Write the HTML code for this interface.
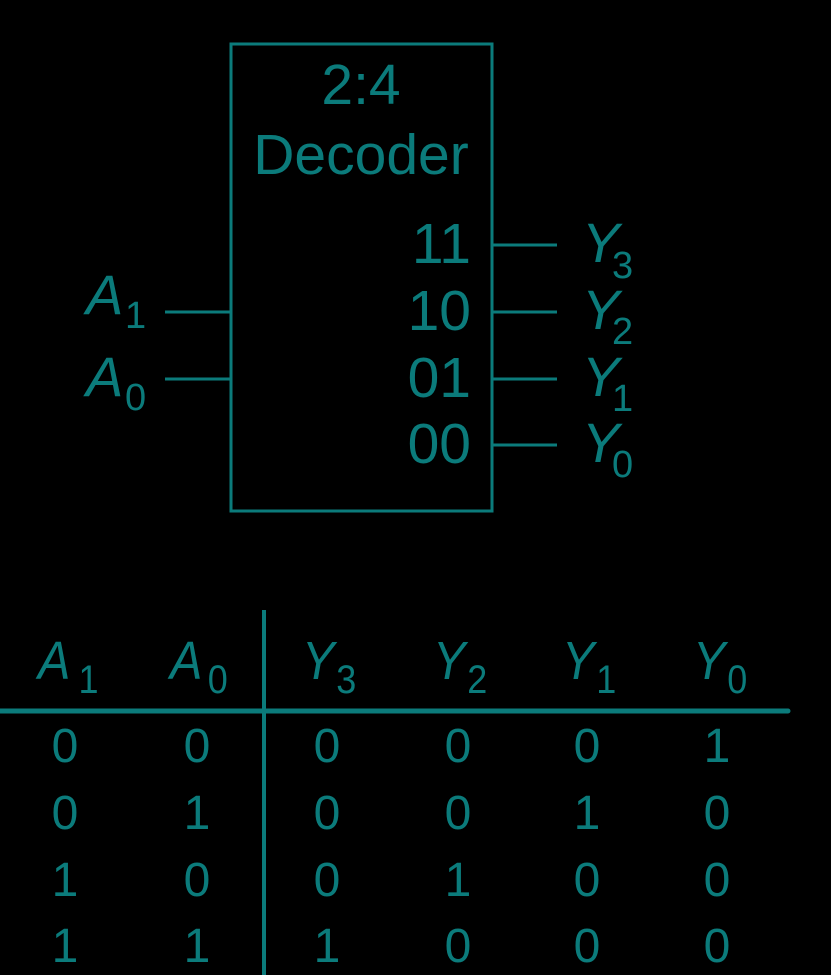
<!DOCTYPE html>
<html><head><meta charset="utf-8"><style>
html,body{margin:0;padding:0;background:#000;}
svg{display:block;}
text{font-family:"Liberation Sans",sans-serif;fill:#0b7b7b;}
.i{font-style:italic;}
</style></head><body>
<svg width="831" height="975" viewBox="0 0 831 975">
<g stroke="#0b7b7b" stroke-width="3" fill="none">
<rect x="231" y="44" width="261" height="467"/>
<line x1="165" y1="312" x2="231" y2="312"/>
<line x1="165" y1="379" x2="231" y2="379"/>
<line x1="492" y1="245" x2="557" y2="245"/>
<line x1="492" y1="312" x2="557" y2="312"/>
<line x1="492" y1="379" x2="557" y2="379"/>
<line x1="492" y1="445" x2="557" y2="445"/>
</g>
<line x1="0" y1="711" x2="788" y2="711" stroke="#0b7b7b" stroke-width="5" stroke-linecap="round"/>
<line x1="264" y1="610" x2="264" y2="975" stroke="#0b7b7b" stroke-width="4"/>
<text x="361" y="104" font-size="57" text-anchor="middle">2:4</text>
<text x="361" y="174" font-size="57" text-anchor="middle">Decoder</text>
<g font-size="57" text-anchor="end">
<text x="471" y="263">11</text>
<text x="471" y="330">10</text>
<text x="471" y="397">01</text>
<text x="471" y="463">00</text>
</g>
<g font-size="56">
<text class="i" x="582" y="262">Y</text><text x="612" y="278" font-size="38">3</text>
<text class="i" x="582" y="329">Y</text><text x="612" y="344" font-size="38">2</text>
<text class="i" x="582" y="396">Y</text><text x="612" y="411" font-size="38">1</text>
<text class="i" x="582" y="462">Y</text><text x="612" y="477" font-size="38">0</text>
<text class="i" x="86" y="314">A</text><text x="125" y="328" font-size="38">1</text>
<text class="i" x="86" y="396">A</text><text x="125" y="410" font-size="38">0</text>
</g>
<g font-size="54">
<g transform="translate(38,679) scale(0.9,1)"><text class="i" x="0" y="0">A</text><text x="45" y="14" font-size="40">1</text></g>
<g transform="translate(170,679) scale(0.9,1)"><text class="i" x="0" y="0">A</text><text x="42" y="14" font-size="40">0</text></g>
<g transform="translate(302,679) scale(0.9,1)"><text class="i" x="0" y="0">Y</text><text x="38" y="14" font-size="40">3</text></g>
<g transform="translate(433,679) scale(0.9,1)"><text class="i" x="0" y="0">Y</text><text x="38" y="14" font-size="40">2</text></g>
<g transform="translate(562,679) scale(0.9,1)"><text class="i" x="0" y="0">Y</text><text x="38" y="14" font-size="40">1</text></g>
<g transform="translate(693,679) scale(0.9,1)"><text class="i" x="0" y="0">Y</text><text x="38" y="14" font-size="40">0</text></g>
</g>
<g font-size="48" text-anchor="middle">
<g transform="translate(0,762) scale(1,1)"><text x="65">0</text><text x="197">0</text><text x="327">0</text><text x="458">0</text><text x="587">0</text><text x="717">1</text></g>
<g transform="translate(0,829)"><text x="65">0</text><text x="197">1</text><text x="327">0</text><text x="458">0</text><text x="587">1</text><text x="717">0</text></g>
<g transform="translate(0,896)"><text x="65">1</text><text x="197">0</text><text x="327">0</text><text x="458">1</text><text x="587">0</text><text x="717">0</text></g>
<g transform="translate(0,962)"><text x="65">1</text><text x="197">1</text><text x="327">1</text><text x="458">0</text><text x="587">0</text><text x="717">0</text></g>
</g>
</svg>
</body></html>
